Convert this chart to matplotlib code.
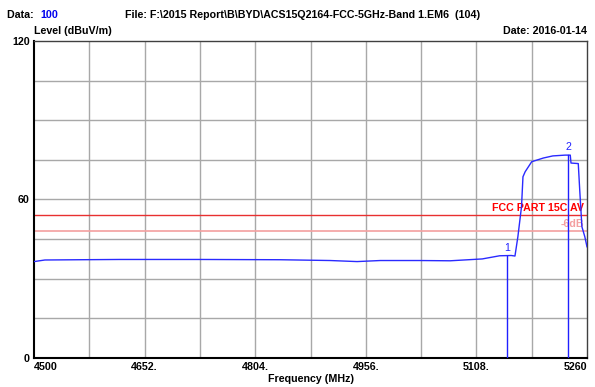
import matplotlib
matplotlib.use('Agg')
import matplotlib.pyplot as plt
import numpy as np

plt.rcParams['font.family'] = ['Liberation Sans', 'DejaVu Sans']
FS = 7.7

# trace
freq = [4500, 4515, 4563, 4618, 4728, 4838, 4907, 4944, 4976, 5030, 5072,
        5116, 5140, 5156, 5161, 5165, 5170, 5172, 5175, 5184, 5200, 5213,
        5230, 5237, 5238, 5248, 5250, 5253, 5257, 5260]
level = [36.5, 37.1, 37.2, 37.3, 37.3, 37.2, 36.9, 36.5, 36.9, 36.9, 36.8,
         37.5, 38.7, 38.8, 38.6, 45.9, 57.3, 68.6, 70.5, 74.3, 75.7, 76.5,
         76.8, 76.8, 73.8, 73.6, 63.6, 49.7, 45.9, 42.1]

limit = 54.0
margin = 6.0
markers = [5150.5, 5234.0]
marker_names = ['1', '2']

xticks = [4500, 4652, 4804, 4956, 5108, 5260]
xticklabels = ['4500', '4652.', '4804.', '4956.', '5108.', '5260']
yticks = [0, 60, 120]

fig = plt.figure(figsize=(5.95, 3.87), dpi=100)
ax = fig.add_axes([34 / 595, 29 / 387, 553 / 595, 317 / 387])
ax.set_xlim(4500, 5260)
ax.set_ylim(0, 120)

# grid: 10 x 8 divisions
for gx in np.linspace(4500, 5260, 11)[1:-1]:
    ax.axvline(gx, color='#a8a8a8', lw=1, zorder=1)
for gy in np.arange(15, 120, 15):
    ax.axhline(gy, color='#a8a8a8', lw=1, zorder=1)

ax.axhline(limit, color='#e83030', lw=1, zorder=2)
ax.axhline(limit - margin, color='#f4a0a0', lw=1.2, zorder=2)
ax.text(5256, limit + 0.8, 'FCC PART 15C AV', color='#ff0000', fontsize=FS,
        fontweight='bold', ha='right', va='bottom')
ax.text(5256, limit - margin + 0.8, '-6dB', color='#f4a0a0', fontsize=FS,
        fontweight='bold', ha='right', va='bottom')

ax.plot(freq, level, color='#2a2aff', lw=1, zorder=3)

for m, name in zip(markers, marker_names):
    top = np.interp(m, freq, level)
    ax.plot([m, m], [0, top], color='#2020ff', lw=1, zorder=3)
    ax.text(m, top + 1, name, color='#2020ff', fontsize=FS, ha='center',
            va='bottom')

for side in ['left', 'bottom']:
    ax.spines[side].set_linewidth(1.5)
    ax.spines[side].set_color('black')
for side in ['top', 'right']:
    ax.spines[side].set_linewidth(1)
    ax.spines[side].set_color('#404040')

ax.set_xticks(xticks)
ax.set_xticklabels(xticklabels, fontsize=FS, fontweight='bold')
labels = ax.get_xticklabels()
labels[0].set_ha('left')
labels[-1].set_ha('right')
ax.set_yticks(yticks)
ax.set_yticklabels([str(v) for v in yticks], fontsize=FS, fontweight='bold')
ax.tick_params(length=0, pad=3)
ax.set_xlabel('Frequency (MHz)', fontsize=FS, fontweight='bold', labelpad=1)

fig.text(7 / 595, 1 - 15 / 387, 'Data: ', fontsize=FS, fontweight='bold',
         va='center')
fig.text(40 / 595, 1 - 15 / 387, '100', fontsize=FS, fontweight='bold',
         color='#0000ee', va='center')
fig.text(125 / 595, 1 - 15 / 387,
         'File: F:\\2015 Report\\B\\BYD\\ACS15Q2164-FCC-5GHz-Band 1.EM6  (104)',
         fontsize=FS, fontweight='bold', va='center')
fig.text(34 / 595, 1 - 31 / 387, 'Level (dBuV/m)', fontsize=FS,
         fontweight='bold', va='center')
fig.text(587 / 595, 1 - 31 / 387, 'Date: 2016-01-14', fontsize=FS,
         fontweight='bold', va='center', ha='right')

fig.savefig('out.png', dpi=100)
